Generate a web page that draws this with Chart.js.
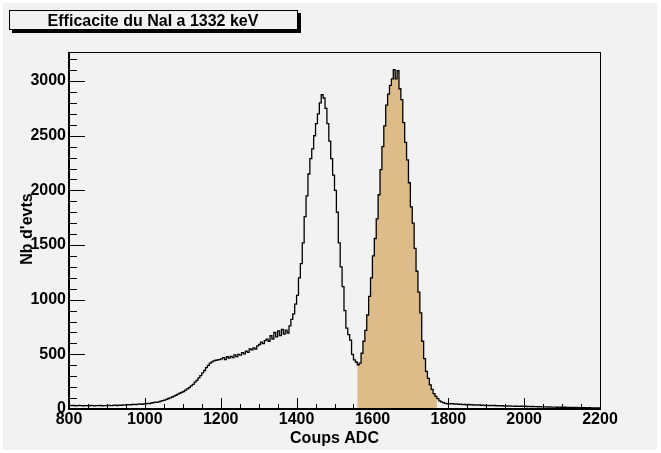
<!DOCTYPE html>
<html>
<head>
<meta charset="utf-8">
<script src="https://cdn.jsdelivr.net/npm/chart.js@4.4.1/dist/chart.umd.min.js"></script>
<style>
  html, body { margin: 0; padding: 0; background: #ffffff; }
  canvas { display: block; }
</style>
</head>
<body>
<canvas id="spectre" width="661" height="453"></canvas>
<script>
// Histogramme : canaux ADC de 800 a 2200, bins de 5 canaux
const binStart = 800;
const binWidth = 5;

// contenus des bins (par tranches de 200 canaux)
const counts800 = [34, 30, 32, 29, 31, 33, 30, 28, 31, 30, 29, 32, 30, 28, 31, 30, 33, 29, 31, 30,
  32, 34, 31, 33, 35, 32, 36, 34, 37, 35, 38, 40, 37, 41, 43, 40, 44, 46, 43, 47];
const counts1000 = [48, 52, 50, 55, 58, 62, 60, 66, 72, 76, 82, 88, 96, 102, 110, 118, 126, 136, 144, 152,
  160, 172, 185, 196, 212, 225, 245, 262, 285, 305, 330, 352, 378, 400, 420, 432, 440, 446, 450, 452];
const counts1200 = [458, 470, 452, 478, 465, 482, 470, 495, 480, 500, 492, 515, 505, 530, 518, 550, 540, 560, 548, 578,
  590, 612, 598, 625, 640, 620, 670, 640, 700, 660, 715, 672, 728, 685, 722, 695, 760, 820, 870, 960];
const counts1400 = [1040, 1200, 1330, 1520, 1760, 1950, 2150, 2290, 2380, 2500, 2610, 2700, 2800, 2875, 2845, 2750, 2610, 2450, 2290, 2140,
  2000, 1800, 1520, 1300, 1120, 900, 740, 680, 630, 500, 450, 430, 405, 420, 510, 620, 720, 860, 1030, 1200];
const counts1600 = [1400, 1560, 1740, 1960, 2190, 2400, 2590, 2780, 2880, 2960, 3020, 3105, 3020, 3095, 2930, 2830, 2620, 2440, 2280, 2070,
  1850, 1700, 1470, 1260, 1070, 880, 620, 460, 345, 280, 220, 180, 140, 115, 95, 75, 65, 58, 52, 48];
const counts1800 = [50, 47, 49, 44, 46, 42, 45, 40, 43, 39, 41, 38, 40, 36, 38, 35, 37, 33, 35, 32,
  34, 31, 33, 30, 32, 29, 31, 28, 30, 27, 29, 27, 28, 26, 27, 25, 27, 24, 26, 24];
const counts2000 = [25, 23, 24, 22, 23, 21, 22, 20, 21, 19, 20, 19, 18, 19, 17, 18, 17, 16, 17, 16,
  15, 16, 15, 14, 15, 14, 13, 14, 13, 12, 13, 12, 12, 11, 12, 11, 11, 10, 11, 10];

// zone integree (photopic 1332 keV)
const fillFrom = 1560;
const fillTo = 1770;

// axes
const xMin = 800, xMax = 2200;
const yMin = 0, yMax = 3266;
const xTickValues = [800, 1000, 1200, 1400, 1600, 1800, 2000, 2200];
const yTickValues = [0, 500, 1000, 1500, 2000, 2500, 3000];

const titre = 'Efficacite du NaI a 1332 keV';
const titreX = 'Coups ADC';
const titreY = "Nb d'evts";

const counts = [].concat(counts800, counts1000, counts1200, counts1400, counts1600, counts1800, counts2000);

// points en escalier (bord bas de chaque bin + bord final)
const histo = counts.map((c, i) => ({ x: binStart + i * binWidth, y: c }));
histo.push({ x: binStart + counts.length * binWidth, y: counts[counts.length - 1] });

const zone = histo.filter(p => p.x >= fillFrom && p.x < fillTo);
zone.push({ x: fillTo, y: zone[zone.length - 1].y });

const FONT = '"Liberation Sans", Arial, Helvetica, sans-serif';
const BG = '#f2f2f2';

const rootStyle = {
  id: 'rootStyle',
  beforeDraw(chart) {
    const ctx = chart.ctx;
    ctx.save();
    ctx.fillStyle = '#ffffff';
    ctx.fillRect(0, 0, chart.width, chart.height);
    ctx.fillStyle = BG;
    ctx.fillRect(3, 3, chart.width - 7, chart.height - 6);

    // boite du titre avec ombre
    ctx.fillStyle = '#000000';
    ctx.fillRect(12, 13, 289, 20);
    ctx.fillStyle = BG;
    ctx.fillRect(9, 10, 289, 20);
    ctx.strokeStyle = '#000000';
    ctx.lineWidth = 1;
    ctx.strokeRect(9.5, 10.5, 288, 19);
    ctx.fillStyle = '#000000';
    ctx.font = 'bold 16px ' + FONT;
    ctx.textAlign = 'center';
    ctx.textBaseline = 'alphabetic';
    ctx.fillText(titre, 153, 26);
    ctx.restore();
  },
  beforeDatasetsDraw(chart) {
    // graduations vers l'interieur, facon ROOT
    const ctx = chart.ctx;
    const area = chart.chartArea;
    const xs = chart.scales.x, ys = chart.scales.y;
    ctx.save();
    ctx.strokeStyle = '#000000';
    ctx.lineWidth = 1;
    ctx.beginPath();
    for (let v = xMin; v <= xMax; v += 50) {
      const px = Math.round(xs.getPixelForValue(v)) + 0.5;
      const len = v % 200 === 0 ? 11 : 5;
      ctx.moveTo(px, area.bottom);
      ctx.lineTo(px, area.bottom - len);
    }
    for (let v = 0; v <= yMax; v += 100) {
      const py = Math.round(ys.getPixelForValue(v)) + 0.5;
      const len = v % 500 === 0 ? 16 : 8;
      ctx.moveTo(area.left, py);
      ctx.lineTo(area.left + len, py);
    }
    ctx.stroke();
    ctx.restore();
  },
  afterDatasetsDraw(chart) {
    const ctx = chart.ctx;
    const a = chart.chartArea;
    ctx.save();
    ctx.strokeStyle = '#000000';
    ctx.lineWidth = 1;
    ctx.strokeRect(a.left + 0.5, a.top + 0.5, a.right - a.left, a.bottom - a.top);
    ctx.lineWidth = 2;
    ctx.beginPath();
    ctx.moveTo(a.left, a.top);
    ctx.lineTo(a.left, a.bottom);
    ctx.lineTo(a.right + 1, a.bottom);
    ctx.stroke();
    ctx.restore();
  },
  afterDraw(chart) {
    const ctx = chart.ctx;
    const a = chart.chartArea;
    ctx.save();
    ctx.fillStyle = '#000000';
    ctx.font = 'bold 16px ' + FONT;
    ctx.textAlign = 'center';
    ctx.textBaseline = 'alphabetic';
    ctx.fillText(titreX, (a.left + a.right) / 2, 443);
    ctx.translate(32, 229);
    ctx.rotate(-Math.PI / 2);
    ctx.fillText(titreY, 0, 0);
    ctx.restore();
  }
};

new Chart(document.getElementById('spectre'), {
  type: 'line',
  data: {
    datasets: [
      {
        label: 'histo',
        data: histo,
        stepped: true,
        borderColor: '#000000',
        borderWidth: 1.3,
        pointRadius: 0,
        fill: false
      },
      {
        label: 'zone',
        data: zone,
        stepped: true,
        borderWidth: 0,
        borderColor: 'rgba(0,0,0,0)',
        backgroundColor: '#debc8a',
        pointRadius: 0,
        fill: 'origin'
      }
    ]
  },
  options: {
    responsive: false,
    devicePixelRatio: 1,
    animation: false,
    layout: { padding: { left: 0, top: 52, right: 61, bottom: 0 } },
    plugins: {
      legend: { display: false },
      tooltip: { enabled: false },
      title: { display: false }
    },
    scales: {
      x: {
        type: 'linear',
        min: xMin,
        max: xMax,
        grid: { display: false, drawTicks: false },
        border: { display: false },
        afterBuildTicks: s => { s.ticks = xTickValues.map(v => ({ value: v })); },
        afterFit: s => { s.height = 44; },
        ticks: {
          autoSkip: false,
          maxRotation: 0,
          padding: 1,
          color: '#000000',
          font: { family: FONT, size: 16, weight: 'bold' },
          callback: v => String(v)
        }
      },
      y: {
        type: 'linear',
        min: yMin,
        max: yMax,
        grid: { display: false, drawTicks: false },
        border: { display: false },
        afterBuildTicks: s => { s.ticks = yTickValues.map(v => ({ value: v })); },
        afterFit: s => { s.width = 69; },
        ticks: {
          autoSkip: false,
          padding: 3,
          color: '#000000',
          font: { family: FONT, size: 16, weight: 'bold' },
          callback: v => String(v)
        }
      }
    }
  },
  plugins: [rootStyle]
});
</script>
</body>
</html>
